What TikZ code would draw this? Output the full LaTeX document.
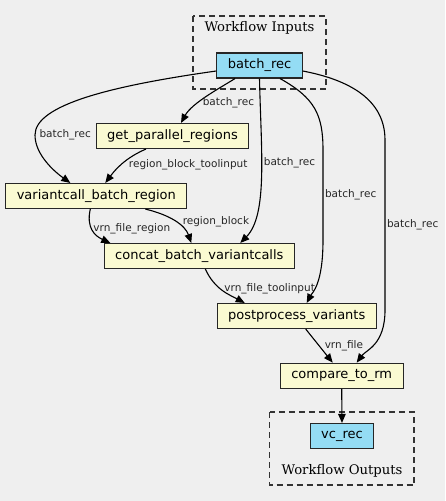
\documentclass[tikz,border=0pt]{standalone}
\usepackage{fontspec}
\usetikzlibrary{arrows.meta}
\newfontfamily\nodefont{DejaVu Sans}
\newfontfamily\titlefont{DejaVu Serif}
\definecolor{bgcol}{HTML}{EFEFEF}
\definecolor{stepcol}{HTML}{FAFAD2}
\definecolor{iocol}{HTML}{94DCF4}
\begin{document}
\begin{tikzpicture}[x=1pt, y=-1pt,
    stepbox/.style = {draw=black!85, line width=1.1pt, fill=stepcol, minimum height=25pt,
                      inner xsep=11pt, font=\nodefont\fontsize{13}{15}\selectfont},
    iobox/.style   = {stepbox, fill=iocol},
    lbl/.style     = {font=\nodefont\fontsize{10.5}{12}\selectfont, inner sep=1pt, text=black!85},
    flow/.style    = {draw=black, line width=1.1pt, -{Triangle[length=9pt,width=7.5pt]}},
    cluster/.style = {draw=black!80, line width=1.1pt, dash pattern=on 6pt off 4pt}]
    \fill[bgcol] (0,0) rectangle (445,501);
    % clusters
    \draw[cluster] (193,16) rectangle (326,89);
    \node[font=\titlefont\fontsize{13.2}{15}\selectfont] (intitle) at (259.5,27.5) {Workflow Inputs};
    \draw[cluster] (269.5,412) rectangle (414,485);
    \node[font=\titlefont\fontsize{13.2}{15}\selectfont] (outtitle) at (342,470.5) {Workflow Outputs};
    % steps
    \node[iobox]   (batch)  at (259.5,65.5) {batch\_rec};
    \node[stepbox] (gpr)    at (172.5,136)  {get\_parallel\_regions};
    \node[stepbox] (vbr)    at (96.3,196)   {variantcall\_batch\_region};
    \node[stepbox] (concat) at (199.3,256)  {concat\_batch\_variantcalls};
    \node[stepbox] (pp)     at (296.7,316)  {postprocess\_variants};
    \node[stepbox] (cmp)    at (341.7,375.7) {compare\_to\_rm};
    \node[iobox]   (vc)     at (342,436)    {vc\_rec};
    % connectors
    \draw[flow] ([xshift=-24.5pt]batch.south) .. controls (220,88) and (192,103)
        .. node[lbl, pos=0.62, right=2pt] {batch\_rec} ([xshift=8.5pt]gpr.north);
    \draw[flow] ([yshift=-5.5pt]batch.west) .. controls (110,86) and (35,105) .. (35,135)
        node[lbl, right=3pt] {batch\_rec}
        .. controls (35,155) and (55,172) .. ([xshift=-26pt]vbr.north);
    \draw[flow] (batch.south) .. controls (261,150) and (268,215)
        .. node[lbl, pos=0.42, right=1pt] {batch\_rec} ([xshift=41pt]concat.north);
    \draw[flow] ([xshift=20.5pt]batch.south) .. controls (315,98) and (323,115) .. (323,150)
        -- node[lbl, right=0.5pt] {batch\_rec} (323,240)
        .. controls (323,285) and (312,293) .. ([xshift=10pt]pp.north);
    \draw[flow] ([yshift=-5.5pt]batch.east) .. controls (350,80) and (385,100) .. (385,140)
        -- node[lbl, right=0.5pt] {batch\_rec} (385,310)
        .. controls (385,345) and (366,350) .. ([xshift=15pt]cmp.north);
    \draw[flow] ([xshift=-26.5pt]gpr.south) .. controls (125,158) and (115,170)
        .. node[lbl, pos=0.5, right=6pt] {region\_block\_toolinput} ([xshift=9pt]vbr.north);
    \draw[flow] ([xshift=-6pt]vbr.south) .. controls (86,228) and (95,236)
        .. node[lbl, pos=0.45, right=0pt] {vrn\_file\_region} ([xshift=-89pt]concat.north);
    \draw[flow] ([xshift=49pt]vbr.south) .. controls (170,215) and (185,225)
        .. node[lbl, pos=0.5, right=6pt] {region\_block} ([xshift=-8pt]concat.north);
    \draw[flow] ([xshift=6pt]concat.south) .. controls (215,290) and (230,295)
        .. node[lbl, pos=0.42, right=3pt] {vrn\_file\_toolinput} ([xshift=-52pt]pp.north);
    \draw[flow] ([xshift=9pt]pp.south) -- node[lbl, right=4pt] {vrn\_file} ([xshift=-9pt]cmp.north);
    \draw[flow] (cmp.south) -- (vc.north);
\end{tikzpicture}
\end{document}
